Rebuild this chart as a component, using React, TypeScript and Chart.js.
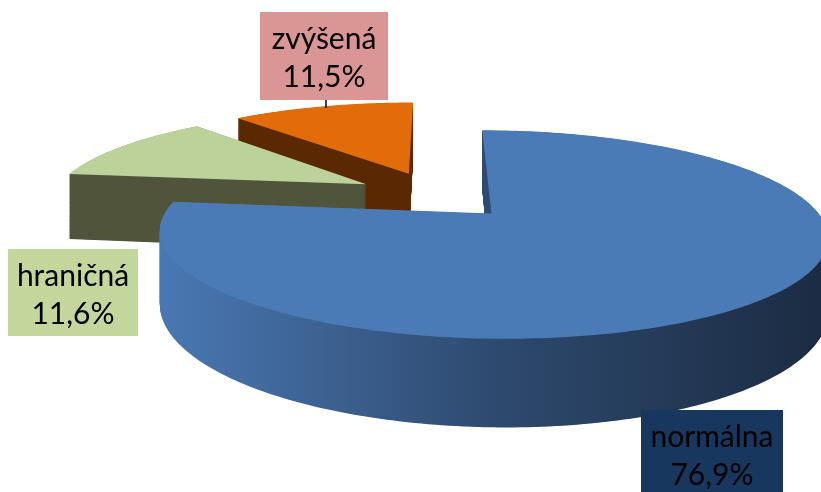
import React, { useEffect, useRef } from "react";
import { Chart, registerables } from "chart.js";

Chart.register(...registerables);

// ---- data ----
const categories = ["normálna", "hraničná", "zvýšená"];
const values = [76.9, 11.6, 11.5];
const valueLabels = ["76,9%", "11,6%", "11,5%"];

// ---- styles ----
const topColors = ["#4a7bb7", "#bdd19a", "#e36c0a"];
const wallStops: string[][] = [
  ["#4a78b3", "#2e4a6f", "#1b2b42"],
  ["#4f543b", "#4f543b", "#4f543b"],
  ["#5a2904", "#5a2904", "#5a2904"],
];
const labelBg = ["#17375e", "#c3d69b", "#d99694"];
const labelBoxes = [
  { x: 641, y: 410, w: 142, h: 82 },
  { x: 8, y: 249, w: 130, h: 87 },
  { x: 260, y: 12, w: 128, h: 88 },
];
const FONT = "30px Lato, 'Noto Sans', sans-serif";

// 3D projection parameters (relative to radius)
const EXPLODE = 0.256;
const PERSP = 0.195;
const SX = 1.614;
const SY = 0.475;
const DEPTH = 0.349;

function project(cx: number, cy: number, R: number, u: number, v: number, z: number) {
  const w = 1 - PERSP * v;
  return [cx + (SX * R * u) / w, cy + (SY * R * v + DEPTH * R * z) / w];
}

function slicePoints(el: any) {
  const s = el.startAngle;
  const e = el.endAngle;
  const mid = (s + e) / 2;
  const ox = EXPLODE * Math.cos(mid);
  const oy = EXPLODE * Math.sin(mid);
  const pts: number[][] = [[ox, oy]];
  const n = Math.max(4, Math.ceil(((e - s) / (Math.PI * 2)) * 360));
  for (let i = 0; i <= n; i++) {
    const t = s + ((e - s) * i) / n;
    pts.push([ox + Math.cos(t), oy + Math.sin(t)]);
  }
  return pts;
}

function pathAt(ctx: CanvasRenderingContext2D, pts: number[][], cx: number, cy: number, R: number, z: number) {
  ctx.beginPath();
  pts.forEach((p, i) => {
    const [X, Y] = project(cx, cy, R, p[0], p[1], z);
    if (i === 0) ctx.moveTo(X, Y);
    else ctx.lineTo(X, Y);
  });
  ctx.closePath();
}

const pie3d = {
  id: "pie3d",
  beforeDatasetsDraw(chart: any) {
    const ctx: CanvasRenderingContext2D = chart.ctx;
    const meta = chart.getDatasetMeta(0);
    const arcs = meta.data;
    const order = [2, 1, 0];
    ctx.save();
    for (const idx of order) {
      const el = arcs[idx];
      const cx = el.x;
      const cy = el.y;
      const R = el.outerRadius;
      const pts = slicePoints(el);
      let minX = Infinity;
      let maxX = -Infinity;
      pts.forEach((p) => {
        const [X] = project(cx, cy, R, p[0], p[1], 0);
        minX = Math.min(minX, X);
        maxX = Math.max(maxX, X);
      });
      const g = ctx.createLinearGradient(minX, 0, maxX, 0);
      const st = wallStops[idx];
      g.addColorStop(0, st[0]);
      g.addColorStop(0.5, st[1]);
      g.addColorStop(1, st[2]);
      const layers = Math.ceil(DEPTH * R * 2);
      ctx.fillStyle = g;
      for (let k = layers; k >= 1; k--) {
        pathAt(ctx, pts, cx, cy, R, k / layers);
        ctx.fill();
      }
      pathAt(ctx, pts, cx, cy, R, 0);
      ctx.fillStyle = topColors[idx];
      ctx.fill();
    }
    ctx.restore();
    return false;
  },
  afterDraw(chart: any) {
    const ctx: CanvasRenderingContext2D = chart.ctx;
    ctx.save();
    // leader line for zvýšená
    const b = labelBoxes[2];
    ctx.strokeStyle = "#000";
    ctx.lineWidth = 1.5;
    ctx.beginPath();
    ctx.moveTo(b.x + b.w / 2 + 2, b.y + b.h);
    ctx.lineTo(b.x + b.w / 2 + 2, b.y + b.h + 8);
    ctx.stroke();
    categories.forEach((c, i) => {
      const box = labelBoxes[i];
      ctx.fillStyle = labelBg[i];
      ctx.fillRect(box.x, box.y, box.w, box.h);
      ctx.fillStyle = "#000";
      ctx.font = FONT;
      ctx.textAlign = "center";
      ctx.textBaseline = "alphabetic";
      ctx.fillText(c, box.x + box.w / 2, box.y + 37);
      ctx.fillText(valueLabels[i], box.x + box.w / 2, box.y + 75);
    });
    ctx.restore();
  },
};

export default function App() {
  const ref = useRef<HTMLCanvasElement | null>(null);
  useEffect(() => {
    if (!ref.current) return;
    const chart = new Chart(ref.current, {
      type: "pie",
      data: {
        labels: categories,
        datasets: [
          {
            data: values,
            backgroundColor: topColors,
            borderWidth: 0,
          },
        ],
      },
      options: {
        responsive: false,
        maintainAspectRatio: false,
        animation: false,
        layout: { padding: { left: 51, right: 0, top: 0, bottom: 102 } },
        plugins: {
          legend: { display: false },
          tooltip: { enabled: false },
        },
      },
      plugins: [pie3d as any],
    });
    return () => chart.destroy();
  }, []);
  return (
    <div style={{ position: "fixed", left: 0, top: 0, width: 821, height: 492, background: "#fff" }}>
      <canvas ref={ref} width={821} height={492} style={{ display: "block" }} />
    </div>
  );
}
